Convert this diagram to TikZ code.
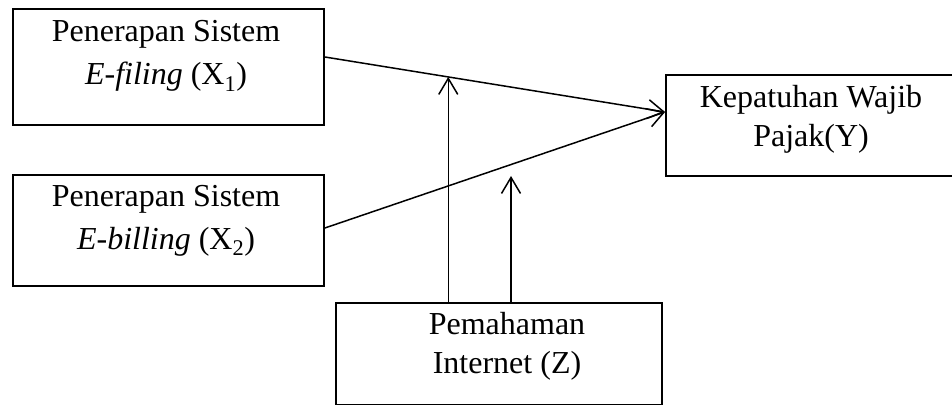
\documentclass[tikz,border=0pt]{standalone}
\usepackage{fontspec}
\setmainfont{Liberation Serif}
\usetikzlibrary{arrows.meta,calc}

\tikzset{
  box/.style={draw, line width=1.8pt, rectangle, inner sep=0pt},
  lbl/.style={anchor=base, inner sep=0pt, font=\fontsize{32}{38}\selectfont},
  link/.style={line width=1.5pt, -{Straight Barb[length=16pt, width=19pt, line width=1.5pt]}},
}

\begin{document}
\begin{tikzpicture}[x=1pt, y=-1pt]
  \clip (0,0) rectangle (952,406);
  \fill[white] (0,0) rectangle (952,406);

  % variable boxes
  \node[box, minimum width=311pt, minimum height=116pt] (x1) at (168.5,67) {};
  \node[box, minimum width=311pt, minimum height=111pt] (x2) at (168.5,230.5) {};
  \node[box, minimum width=299pt, minimum height=101pt] (y)  at (815.5,125.5) {};
  \node[box, minimum width=326pt, minimum height=101.5pt] (z) at (499,353.75) {};

  % box texts
  \node[lbl] (x1a) at (166,41.7) {Penerapan Sistem};
  \node[lbl] (x1b) at (166,85) {\textit{E-filing} (X\textsubscript{1})};
  \node[lbl] (x2a) at (166,206) {Penerapan Sistem};
  \node[lbl] (x2b) at (166,249) {\textit{E-billing} (X\textsubscript{2})};
  \node[lbl] (ya)  at (811,108) {Kepatuhan Wajib};
  \node[lbl] (yb)  at (811,147) {Pajak(Y)};
  \node[lbl] (za)  at (507,334) {Pemahaman};
  \node[lbl] (zb)  at (507,373) {Internet (Z)};

  % direct effects
  \coordinate (s1) at ([yshift=10pt]x1.east);
  \coordinate (s2) at ([yshift=2.5pt]x2.east);
  \coordinate (t)  at ([yshift=13.5pt]y.west);
  \draw[link] (s1) -- (t);
  \draw[link] (s2) -- (t);

  % moderating effects
  \coordinate (m1) at ($(s1)!0.3626!(t)$);
  \coordinate (m2) at (511,176);
  \draw[link] (z.north -| m1) -- (m1);
  \draw[link] (z.north -| m2) -- (m2);
\end{tikzpicture}
\end{document}
